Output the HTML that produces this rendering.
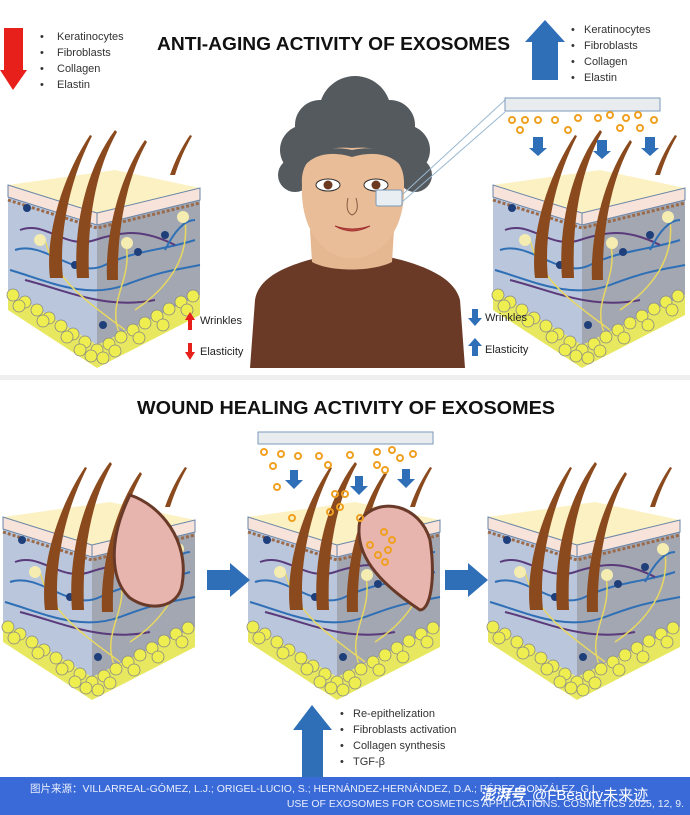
<!DOCTYPE html>
<html><head><meta charset="utf-8"><style>
html,body{margin:0;padding:0;background:#fff}
body{width:690px;height:815px;overflow:hidden;position:relative;font-family:"Liberation Sans","Noto Sans CJK SC",sans-serif}
svg{position:absolute;left:0;top:0}
</style></head><body>
<svg width="690" height="815" viewBox="0 0 690 815" xmlns="http://www.w3.org/2000/svg">
<defs>
<symbol id="skin" viewBox="0 0 200 240">
  <polygon points="3,160 92,215 195,165 195,185 92,238 3,180" fill="#e8e860"/>
  <polygon points="3,67 92,95 92,215 3,160" fill="#b9c6dc"/>
  <polygon points="92,95 195,70 195,165 92,215" fill="#a2a7b2"/>
  <polygon points="3,55 92,83 195,58 110,40" fill="#fcf1c3"/>
  <polygon points="3,55 92,83 92,95 3,67" fill="#f7e3d9" stroke="#6a86a8" stroke-width="1"/>
  <polygon points="92,83 195,58 195,70 92,95" fill="#f7e3d9" stroke="#6a86a8" stroke-width="1"/>
  <polyline points="3,70 92,98 195,73" fill="none" stroke="#9a6a4a" stroke-width="3" stroke-dasharray="3,2"/>
  <g fill="none" stroke-width="2">
    <path d="M10,120 C40,110 70,150 100,135 S160,120 190,110" stroke="#2f6fb5"/>
    <path d="M5,140 C40,150 80,170 120,155 S170,140 195,135" stroke="#2f6fb5"/>
    <path d="M20,150 C60,160 100,180 150,170" stroke="#5a3a7a"/>
    <path d="M15,100 C40,90 60,120 90,110 S140,100 170,115" stroke="#5a3a7a"/>
    <path d="M40,110 C50,150 80,170 120,200" stroke="#e8d860" stroke-width="1.5"/>
    <path d="M120,110 C130,150 100,170 115,205" stroke="#e8d860" stroke-width="1.5"/>
    <path d="M180,90 C185,130 160,160 130,180" stroke="#e8d860" stroke-width="1.5"/>
    <path d="M160,120 C170,100 180,90 190,90" stroke="#2f6fb5"/>
  </g>
  <g fill="#1f3f7a">
    <circle cx="22" cy="78" r="4"/><circle cx="70" cy="135" r="4"/><circle cx="133" cy="122" r="4"/><circle cx="160" cy="105" r="4"/><circle cx="98" cy="195" r="4"/>
  </g>
  <g fill="#f4ecb0"><circle cx="35" cy="110" r="6"/><circle cx="122" cy="113" r="6"/><circle cx="178" cy="87" r="6"/></g>
  <g fill="#8a4a1e">
    <path d="M45,148 C40,110 55,50 85,5 L87,6 C62,55 54,110 58,148 Z"/>
    <path d="M72,148 C68,100 80,40 110,0 L112,2 C88,45 82,100 84,148 Z"/>
    <path d="M102,150 C100,110 112,50 140,10 L142,12 C118,55 112,110 113,150 Z"/>
    <path d="M165,45 C170,30 178,15 185,5 L187,6 C180,18 174,32 170,45 Z"/>
  </g>
  <g fill="#eeee50" stroke="#888" stroke-width="0.8">
    <circle cx="8" cy="165" r="6"/><circle cx="20" cy="172" r="6"/><circle cx="32" cy="180" r="6"/><circle cx="44" cy="188" r="6"/><circle cx="56" cy="196" r="6"/><circle cx="68" cy="204" r="6"/><circle cx="80" cy="212" r="6"/><circle cx="92" cy="220" r="6"/>
    <circle cx="14" cy="176" r="6"/><circle cx="38" cy="191" r="6"/><circle cx="62" cy="207" r="6"/><circle cx="86" cy="226" r="6"/><circle cx="75" cy="220" r="6"/>
    <circle cx="104" cy="214" r="6"/><circle cx="116" cy="207" r="6"/><circle cx="128" cy="200" r="6"/><circle cx="140" cy="193" r="6"/><circle cx="152" cy="186" r="6"/><circle cx="164" cy="179" r="6"/><circle cx="176" cy="172" r="6"/><circle cx="188" cy="166" r="6"/>
    <circle cx="98" cy="228" r="6"/><circle cx="110" cy="221" r="6"/><circle cx="134" cy="208" r="6"/><circle cx="158" cy="195" r="6"/><circle cx="182" cy="180" r="6"/>
  </g>
</symbol>
</defs>

<!-- top section -->
<polygon points="4,28 23,28 23,70 27,70 13,90 0,70 4,70" fill="#e8201c"/>
<g font-size="11" fill="#333">
  <text x="40" y="40">•</text><text x="57" y="40">Keratinocytes</text>
  <text x="40" y="56">•</text><text x="57" y="56">Fibroblasts</text>
  <text x="40" y="72">•</text><text x="57" y="72">Collagen</text>
  <text x="40" y="88">•</text><text x="57" y="88">Elastin</text>
</g>
<text x="157" y="50" font-size="18" font-weight="bold" fill="#111" textLength="353" lengthAdjust="spacingAndGlyphs">ANTI-AGING ACTIVITY OF EXOSOMES</text>
<polygon points="545,20 565,42 558,42 558,80 532,80 532,42 525,42" fill="#2f6fb8"/>
<g font-size="11" fill="#333">
  <text x="571" y="33">•</text><text x="584" y="33">Keratinocytes</text>
  <text x="571" y="49">•</text><text x="584" y="49">Fibroblasts</text>
  <text x="571" y="65">•</text><text x="584" y="65">Collagen</text>
  <text x="571" y="81">•</text><text x="584" y="81">Elastin</text>
</g>

<use href="#skin" x="5" y="130" width="200" height="240"/>
<use href="#skin" x="490" y="130" width="200" height="240"/>

<!-- woman -->
<path d="M250,368 L255,300 C258,280 280,265 330,255 L380,255 C430,265 455,280 460,300 L465,368 Z" fill="#6b3a26"/>
<path d="M310,230 L312,262 C330,272 372,272 392,262 L394,230 Z" fill="#e5b892"/>
<g fill="#555a5e">
  <circle cx="355" cy="112" r="36"/>
  <circle cx="320" cy="125" r="25"/><circle cx="390" cy="125" r="25"/>
  <circle cx="305" cy="150" r="25"/><circle cx="405" cy="150" r="25"/>
  <circle cx="295" cy="175" r="17"/><circle cx="415" cy="175" r="17"/>
  <circle cx="355" cy="140" r="32"/>
</g>
<path d="M302,185 C300,160 318,145 352,148 C388,145 405,160 404,185 C406,225 385,258 352,258 C320,258 300,225 302,185 Z" fill="#e8bd98"/>
<path d="M302,170 C310,150 330,145 352,150 C375,145 398,150 404,170 C395,155 375,150 352,157 C330,150 310,155 302,170 Z" fill="#555a5e"/>
<ellipse cx="328" cy="185" rx="12" ry="6" fill="#fff" stroke="#333"/><circle cx="328" cy="185" r="4.5" fill="#6b3a20"/>
<ellipse cx="376" cy="185" rx="12" ry="6" fill="#fff" stroke="#333"/><circle cx="376" cy="185" r="4.5" fill="#6b3a20"/>
<path d="M335,226 Q352,236 370,226 Q352,232 335,226 Z" fill="#c05040" stroke="#a03030"/>
<path d="M348,198 Q345,212 352,215 Q360,212 356,198" fill="none" stroke="#8a5a40"/>
<rect x="376" y="190" width="26" height="16" rx="2" fill="#e8eef2" stroke="#7a9ab8"/>
<line x1="402" y1="195" x2="505" y2="100" stroke="#9ab8d0"/>
<line x1="402" y1="202" x2="505" y2="112" stroke="#9ab8d0"/>
<rect x="505" y="98" width="155" height="13" fill="#e8ecef" stroke="#7a9ab8"/>
<g fill="none" stroke="#f0a020" stroke-width="2">
  <circle cx="512" cy="120" r="3"/><circle cx="525" cy="120" r="3"/><circle cx="538" cy="120" r="3"/><circle cx="555" cy="120" r="3"/><circle cx="578" cy="118" r="3"/><circle cx="598" cy="118" r="3"/><circle cx="610" cy="115" r="3"/><circle cx="626" cy="118" r="3"/><circle cx="638" cy="115" r="3"/><circle cx="654" cy="120" r="3"/><circle cx="520" cy="130" r="3"/><circle cx="568" cy="130" r="3"/><circle cx="620" cy="128" r="3"/><circle cx="640" cy="128" r="3"/>
</g>
<g fill="#2f6fb8">
  <polygon points="533,137 543,137 543,148 547,148 538,156 529,148 533,148"/>
  <polygon points="597,140 607,140 607,151 611,151 602,159 593,151 597,151"/>
  <polygon points="645,137 655,137 655,148 659,148 650,156 641,148 645,148"/>
</g>

<polygon points="185,320 190,312 195,320 192,320 192,330 188,330 188,320" fill="#e8201c"/>
<polygon points="188,343 192,343 192,352 195,352 190,360 185,352 188,352" fill="#e8201c"/>
<text x="200" y="324" font-size="11" fill="#222">Wrinkles</text>
<text x="200" y="355" font-size="11" fill="#222">Elasticity</text>
<polygon points="472,309 478,309 478,318 482,318 475,326 468,318 472,318" fill="#2f6fb8"/>
<polygon points="475,338 482,346 478,346 478,356 472,356 472,346 468,346" fill="#2f6fb8"/>
<text x="485" y="321" font-size="11" fill="#222">Wrinkles</text>
<text x="485" y="353" font-size="11" fill="#222">Elasticity</text>

<rect x="0" y="375" width="690" height="5" fill="#eeeeee"/>

<!-- bottom section -->
<text x="137" y="414" font-size="18" font-weight="bold" fill="#111" textLength="418" lengthAdjust="spacingAndGlyphs">WOUND HEALING ACTIVITY OF EXOSOMES</text>
<use href="#skin" x="0" y="462" width="200" height="240"/>
<use href="#skin" x="245" y="462" width="200" height="240"/>
<use href="#skin" x="485" y="462" width="200" height="240"/>

<path d="M130,495 C160,505 190,540 182,585 C178,608 150,612 130,598 C110,580 108,540 130,495 Z" fill="#e8b4ae" stroke="#6a3a28" stroke-width="3"/>
<path d="M360,520 C380,495 420,505 430,540 C436,580 430,610 420,610 C390,590 352,560 360,520 Z" fill="#e8b4ae" stroke="#6a3a28" stroke-width="3"/>
<g fill="none" stroke="#f0a020" stroke-width="2">
  <circle cx="384" cy="532" r="3"/><circle cx="392" cy="540" r="3"/><circle cx="370" cy="545" r="3"/><circle cx="388" cy="550" r="3"/><circle cx="378" cy="555" r="3"/><circle cx="385" cy="562" r="3"/>
</g>

<rect x="258" y="432" width="175" height="12" fill="#e8ecef" stroke="#7a9ab8"/>
<g fill="none" stroke="#f0a020" stroke-width="2">
  <circle cx="264" cy="452" r="3"/><circle cx="281" cy="454" r="3"/><circle cx="298" cy="456" r="3"/><circle cx="319" cy="456" r="3"/><circle cx="350" cy="455" r="3"/><circle cx="377" cy="452" r="3"/><circle cx="392" cy="450" r="3"/><circle cx="400" cy="458" r="3"/><circle cx="413" cy="454" r="3"/><circle cx="273" cy="466" r="3"/><circle cx="328" cy="465" r="3"/><circle cx="385" cy="470" r="3"/><circle cx="377" cy="465" r="3"/><circle cx="277" cy="487" r="3"/><circle cx="335" cy="494" r="3"/><circle cx="345" cy="494" r="3"/><circle cx="340" cy="507" r="3"/><circle cx="330" cy="512" r="3"/><circle cx="292" cy="518" r="3"/><circle cx="360" cy="518" r="3"/>
</g>
<g fill="#2f6fb8">
  <polygon points="290,470 298,470 298,480 303,480 294,489 285,480 290,480"/>
  <polygon points="355,476 363,476 363,486 368,486 359,495 350,486 355,486"/>
  <polygon points="402,469 410,469 410,479 415,479 406,488 397,479 402,479"/>
  <polygon points="207,570 230,570 230,563 250,580 230,597 230,590 207,590"/>
  <polygon points="445,570 468,570 468,563 488,580 468,597 468,590 445,590"/>
  <polygon points="312,705 332,730 323,730 323,777 302,777 302,730 293,730"/>
</g>
<g font-size="11" fill="#333">
  <text x="340" y="717">•</text><text x="353" y="717">Re-epithelization</text>
  <text x="340" y="733">•</text><text x="353" y="733">Fibroblasts activation</text>
  <text x="340" y="749">•</text><text x="353" y="749">Collagen synthesis</text>
  <text x="340" y="765">•</text><text x="353" y="765">TGF-β</text>
</g>

<rect x="0" y="777" width="690" height="38" fill="#3a6ad8"/>
<text x="30" y="792" font-size="10.5" fill="#e8eefc">图片来源：VILLARREAL-GÓMEZ, L.J.; ORIGEL-LUCIO, S.; HERNÁNDEZ-HERNÁNDEZ, D.A.; PÉREZ-GONZÁLEZ, G.L.</text>
<text x="684" y="807" font-size="10.5" fill="#e8eefc" text-anchor="end">USE OF EXOSOMES FOR COSMETICS APPLICATIONS. COSMETICS 2025, 12, 9.</text>
<text x="480" y="800" font-size="15" fill="#fff" font-style="italic" font-weight="bold">澎湃号</text>
<text x="532" y="800" font-size="15" fill="#fff">@FBeauty未来迹</text>
</svg>
</body></html>
